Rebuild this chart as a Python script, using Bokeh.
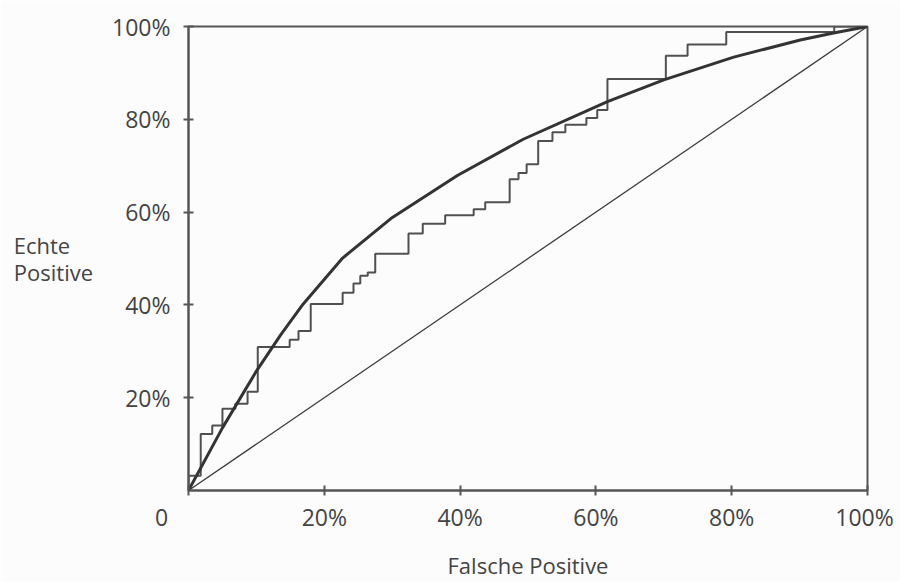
from bokeh.plotting import figure
from bokeh.models import Range1d, FixedTicker
from bokeh.embed import file_html
from bokeh.resources import INLINE

# Diagonal (random classifier)
diag_x = [0, 100]
diag_y = [0, 100]

# Smooth ROC curve
roc_fpr = [0, 5, 9.9, 13.6, 16.9, 22.7, 29.8, 39.6, 49.3, 61.7, 70, 80.3, 90.1, 95, 100]
roc_tpr = [0, 13.5, 25.5, 33.6, 40.2, 50.1, 58.6, 67.9, 75.7, 83.8, 88.5, 93.4, 97.1, 98.6, 100]

# Empirical step ROC curve (corner points, step after)
step_fpr = [0, 0, 1.8, 3.5, 5.0, 6.9, 8.7, 10.2, 14.9, 16.2, 18.0, 22.7, 24.3, 25.3, 26.4,
            27.5, 32.4, 34.5, 37.8, 42.0, 43.7, 47.3, 48.6, 49.8, 51.5, 53.6, 55.5, 58.6,
            60.2, 61.7, 70.3, 73.5, 79.2, 95.1, 100]
step_tpr = [0, 3.2, 12.2, 14.0, 17.6, 18.7, 21.3, 30.9, 32.5, 34.4, 40.2, 42.6, 44.6, 46.3, 47.0,
            51.0, 55.4, 57.5, 59.3, 60.6, 62.1, 67.1, 68.4, 70.3, 75.3, 77.2, 78.8, 80.3,
            82.0, 88.7, 93.7, 96.1, 98.8, 100, 100]

x_ticks = [0, 20, 40, 60, 80, 100]
x_tick_labels = ["0" + "\u00a0" * 9, "20%", "40%", "60%", "80%", "100%\u00a0"]
y_ticks = [20, 40, 60, 80, 100]
y_tick_labels = ["20%", "40%", "60%", "80%", "100%"]
y_axis_title = "Echte" + "\u00a0" * 4 + "\nPositive"
x_axis_title = "Falsche Positive"

FONT = "Open Sans"
TXT = "#444444"
AXC = "#555555"
BG = "#fcfcfc"

p = figure(width=900, height=582, output_backend="svg", toolbar_location=None,
           x_range=Range1d(0, 100), y_range=Range1d(0, 100),
           min_border_left=188, min_border_right=33, min_border_top=26, min_border_bottom=90)
p.background_fill_color = BG
p.border_fill_color = BG
p.grid.visible = False
p.outline_line_color = AXC
p.outline_line_width = 2

for ax in (p.xaxis[0], p.yaxis[0]):
    ax.axis_line_color = AXC
    ax.axis_line_width = 2
    ax.major_tick_line_color = AXC
    ax.major_tick_line_width = 2
    ax.major_tick_in = 5
    ax.major_tick_out = 5
    ax.minor_tick_line_color = None
    ax.major_label_text_font = FONT
    ax.major_label_text_font_size = "23px"
    ax.major_label_text_color = TXT
    ax.axis_label_text_font = FONT
    ax.axis_label_text_font_size = "22px"
    ax.axis_label_text_font_style = "normal"
    ax.axis_label_text_color = TXT

p.xaxis.ticker = FixedTicker(ticks=x_ticks)
p.xaxis.major_label_overrides = dict(zip(x_ticks, x_tick_labels))
p.xaxis.major_label_standoff = 5
p.xaxis.axis_label = x_axis_title
p.xaxis.axis_label_standoff = 14

p.yaxis.ticker = FixedTicker(ticks=y_ticks)
p.yaxis.major_label_overrides = dict(zip(y_ticks, y_tick_labels))
p.yaxis.major_label_standoff = 13
p.yaxis.axis_label = y_axis_title
p.yaxis.axis_label_orientation = "horizontal"
p.yaxis.axis_label_text_line_height = 0.9
p.yaxis.axis_label_standoff = 16

p.line(diag_x, diag_y, line_color="#3c3c3c", line_width=1.3)
p.step(step_fpr, step_tpr, mode="after", line_color="#505050", line_width=2)
p.line(roc_fpr, roc_tpr, line_color="#333333", line_width=3, line_join="round")

open("out.html", "w").write(file_html(p, INLINE))
